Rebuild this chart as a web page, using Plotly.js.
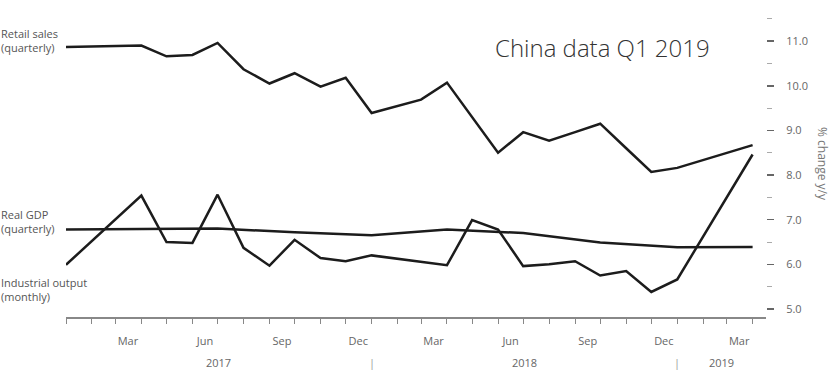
<!DOCTYPE html>
<html>
<head>
<meta charset="utf-8">
<script src="https://cdn.plot.ly/plotly-3.0.1.min.js"></script>
<style>html,body{margin:0;padding:0;background:#fff;}#chart{width:832px;height:380px;}</style>
</head>
<body>
<div id="chart"></div>
<script>
// Series (dated first day of the month after the reporting month)
const retailDates = ['2017-01-01','2017-04-01','2017-05-01','2017-06-01','2017-07-01','2017-08-01','2017-09-01','2017-10-01','2017-11-01','2017-12-01','2018-01-01','2018-03-01','2018-04-01','2018-05-01','2018-06-01','2018-07-01','2018-08-01','2018-09-01','2018-10-01','2018-11-01','2018-12-01','2019-01-01','2019-04-01'];
const retailValues = [10.87,10.90,10.66,10.69,10.96,10.37,10.05,10.28,9.98,10.18,9.39,9.69,10.07,9.29,8.50,8.96,8.77,8.96,9.15,8.60,8.07,8.16,8.67];

const gdpDates = ['2017-01-01','2017-04-01','2017-07-01','2017-10-01','2018-01-01','2018-04-01','2018-07-01','2018-10-01','2019-01-01','2019-04-01'];
const gdpValues = [6.78,6.79,6.80,6.72,6.65,6.78,6.70,6.49,6.38,6.39];

const ioDates = ['2017-01-01','2017-04-01','2017-05-01','2017-06-01','2017-07-01','2017-08-01','2017-09-01','2017-10-01','2017-11-01','2017-12-01','2018-01-01','2018-04-01','2018-05-01','2018-06-01','2018-07-01','2018-08-01','2018-09-01','2018-10-01','2018-11-01','2018-12-01','2019-01-01','2019-04-01'];
const ioValues = [5.99,7.54,6.50,6.48,7.56,6.37,5.97,6.55,6.14,6.07,6.20,5.98,6.99,6.78,5.96,6.00,6.07,5.75,5.85,5.38,5.66,8.46];

// Axis labels
const monthTickDates = ['2017-03-16','2017-06-16','2017-09-16','2017-12-16','2018-03-16','2018-06-16','2018-09-16','2018-12-16','2019-03-16'];
const monthTickLabels = ['Mar','Jun','Sep','Dec','Mar','Jun','Sep','Dec','Mar'];
const yearLabels = ['2017','2018','2019'];
const seriesLabels = ['Retail sales<br>(quarterly)','Real GDP<br>(quarterly)','Industrial output<br>(monthly)'];
const titleText = 'China data Q1 2019';
const yTitle = '% change y/y';

const xStart = '2017-01-01', xEnd = '2019-04-17';

const lineStyle = {color:'#1c1c1c', width:2.5};
const traces = [
  {x: retailDates, y: retailValues, type:'scatter', mode:'lines', line: lineStyle, hoverinfo:'none'},
  {x: gdpDates, y: gdpValues, type:'scatter', mode:'lines', line: lineStyle, hoverinfo:'none'},
  {x: ioDates, y: ioValues, type:'scatter', mode:'lines', line: lineStyle, hoverinfo:'none'}
];

const font = 'Open Sans, Noto Sans, sans-serif';
const annotations = [];

// Year labels, centred in the visible part of each year
const t0 = Date.parse(xStart), t1 = Date.parse(xEnd);
yearLabels.forEach((yr, i) => {
  const a = Math.max(t0, Date.parse(yr + '-01-01'));
  const b = Math.min(t1, Date.parse((+yr + 1) + '-01-01'));
  const mid = new Date((a + b) / 2).toISOString().slice(0, 10);
  annotations.push({x: mid, xref:'x', y:0, yref:'paper', yanchor:'middle', yshift:-45, showarrow:false,
    text: yr, font:{family:font, size:11, color:'#666'}});
  if (i > 0) {
    annotations.push({x: yr + '-01-01', xref:'x', y:0, yref:'paper', yanchor:'middle', yshift:-45, showarrow:false,
      text: '|', font:{family:font, size:11, color:'#999'}});
  }
});

// Series labels at the left
const labelY = [0.923, 0.317, 0.093];
seriesLabels.forEach((t, i) => {
  annotations.push({x:0, xref:'paper', xshift:-67, xanchor:'left', y: labelY[i], yref:'paper', yanchor:'middle',
    align:'left', showarrow:false, text:t, font:{family:font, size:11, color:'#555'}});
});

// Title
annotations.push({x:0.767, xref:'paper', y:0.897, yref:'paper', xanchor:'center', yanchor:'middle', showarrow:false,
  text: titleText, font:{family:font, size:24, color:'#333', weight:300}});

// Y-axis title, reading top to bottom on the right
annotations.push({x:1, xref:'paper', xshift:57, y:0.51, yref:'paper', xanchor:'center', yanchor:'middle', showarrow:false,
  textangle:90, borderpad:0, text: yTitle, font:{family:font, size:12, color:'#777'}});

const layout = {
  width: 832, height: 380,
  margin: {l:66, r:66, t:17, b:63},
  paper_bgcolor:'#fff', plot_bgcolor:'#fff',
  showlegend:false,
  font:{family:font, color:'#666', size:11},
  xaxis: {
    type:'date', range:[xStart, xEnd], fixedrange:true,
    showline:true, linecolor:'#888', linewidth:1.5,
    showgrid:false, zeroline:false,
    tickmode:'array', tickvals: monthTickDates, ticktext: monthTickLabels,
    ticks:'', ticklabelstandoff: 13,
    tickfont:{family:font, size:11, color:'#666'},
    minor:{tickmode:'linear', tick0:xStart, dtick:'M1', ticks:'outside', ticklen:5, tickwidth:1, tickcolor:'#888', showgrid:false}
  },
  yaxis: {
    side:'right', range:[4.82, 11.54], fixedrange:true,
    showline:false, showgrid:false, zeroline:false,
    tickmode:'linear', tick0:5, dtick:1, tickformat:'.1f',
    ticks:'outside', ticklen:7, tickwidth:1.5, tickcolor:'#666',
    ticklabelstandoff: 10,
    tickfont:{family:font, size:11, color:'#666'},
    minor:{tickmode:'linear', tick0:5, dtick:0.5, ticks:'outside', ticklen:5, tickwidth:1, tickcolor:'#aaa', showgrid:false}
  },
  annotations: annotations
};

Plotly.newPlot('chart', traces, layout, {displayModeBar:false, staticPlot:true});
</script>
</body>
</html>
